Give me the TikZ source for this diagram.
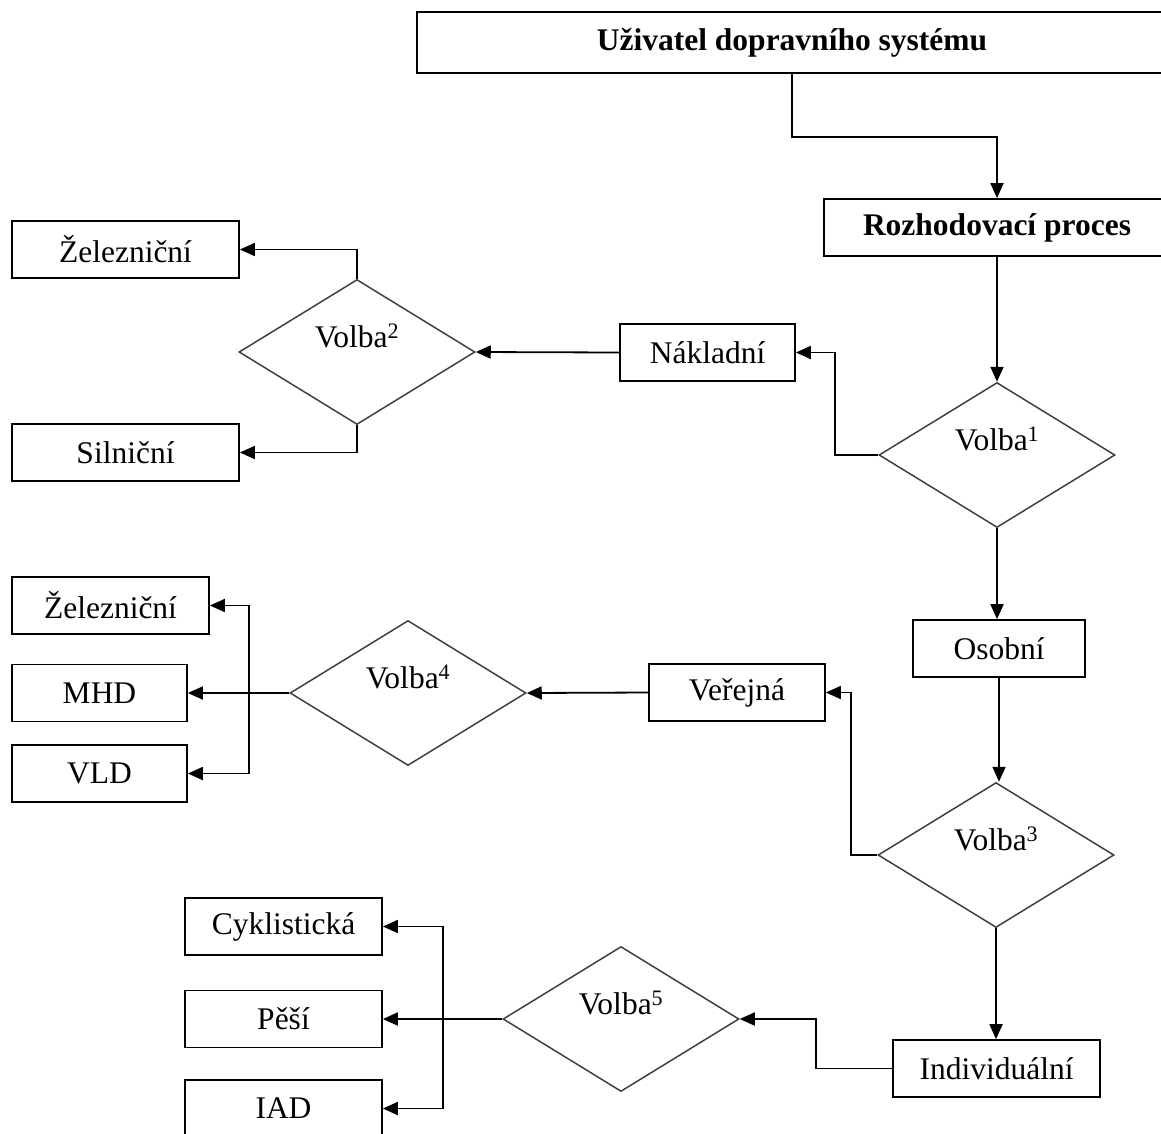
\documentclass[tikz,border=0pt]{standalone}
\usepackage{fontspec}
\setmainfont{Liberation Serif}
\usetikzlibrary{arrows.meta,shapes.geometric}
\newcommand{\diagfont}{\fontsize{31.5}{36}\selectfont}
\tikzset{
  box/.style={draw=black, line width=1.7pt, inner sep=0pt, minimum height=57pt,
              font=\diagfont},
  choice/.style={draw=black!75, line width=1.5pt, shape=diamond, inner sep=0pt,
                 font=\diagfont},
  link/.style={line width=1.8pt, draw=black},
  arr/.style={link, -{Triangle[length=15pt,width=13pt]}},
}
% decision diamond with its caption set slightly above the centre
\newcommand{\choicenode}[4]{%
  \node[choice, minimum width=236pt, minimum height=145pt,
        label={[yshift=16pt, font=\diagfont]center:{Volba\textsuperscript{#4}}}]
    (#1) at (#2,#3) {};}
\begin{document}
\begin{tikzpicture}[x=1pt,y=-1pt]
\useasboundingbox (0,0) rectangle (1161,1133);
\clip (0,0) rectangle (1161,1133);

% top of the decision chain
\node[box, minimum width=750pt, minimum height=61pt, font=\diagfont\bfseries]
  (user) at (792,42.5) {Uživatel dopravního systému};
\node[box, minimum width=346pt, font=\diagfont\bfseries]
  (proc) at (997,227.5) {Rozhodovací proces};

% decision diamonds
\choicenode{v1}{997}{455}{1}
\choicenode{v2}{357}{352}{2}
\choicenode{v3}{996}{855}{3}
\choicenode{v4}{408}{693}{4}
\choicenode{v5}{621}{1019}{5}

% freight branch
\node[box, minimum width=175pt] (nakl) at (707.5,352.5) {Nákladní};
\node[box, minimum width=227pt] (zel1) at (125.5,249.5) {Železniční};
\node[box, minimum width=227pt] (sil)  at (125.5,452.5) {Silniční};

% passenger branch
\node[box, minimum width=172pt] (osob) at (999,648.5) {Osobní};
\node[box, minimum width=176pt] (vere) at (737,692.5) {Veřejná};
\node[box, minimum width=197pt] (zel2) at (110.5,605.5) {Železniční};
\node[box, minimum width=175pt] (mhd)  at (99.5,693) {MHD};
\node[box, minimum width=175pt] (vld)  at (99.5,773.5) {VLD};

% individual transport
\node[box, minimum width=207pt] (indi) at (996.5,1068.5) {Individuální};
\node[box, minimum width=197pt] (cykl) at (283.5,926.5) {Cyklistická};
\node[box, minimum width=197pt] (pesi) at (283.5,1019) {Pěší};
\node[box, minimum width=197pt] (iad)  at (283.5,1108.5) {IAD};

% junction points of the fan-out connectors
\coordinate (j4) at (249,693);
\coordinate (j5) at (443,1019);

% connectors
\draw[arr] (user.south) -- ++(0,63) -| (proc.north);
\draw[arr] (proc.south) -- (v1.north);
\draw[arr] (v1.west) -- ++(-43,0) |- (nakl.east);
\draw[arr] (nakl.west) -- (v2.east);
\draw[arr] (v2.north) |- (zel1.east);
\draw[arr] (v2.south) |- (sil.east);

\draw[arr] (v1.south) -- (v1.south |- osob.north);
\draw[arr] (osob.south) -- (osob.south |- v3.north);
\draw[arr] (v3.west) -- ++(-26,0) |- (vere.east);
\draw[arr] (vere.west) -- (v4.east);
\draw[arr] (v4.west) -- (mhd.east);
\draw[arr] (j4) |- (zel2.east);
\draw[arr] (j4) |- (vld.east);

\draw[arr] (v3.south) -- (v3.south |- indi.north);
\draw[arr] (indi.west) -- ++(-76,0) |- (v5.east);
\draw[arr] (v5.west) -- (pesi.east);
\draw[arr] (j5) |- (cykl.east);
\draw[arr] (j5) |- (iad.east);
\end{tikzpicture}
\end{document}
